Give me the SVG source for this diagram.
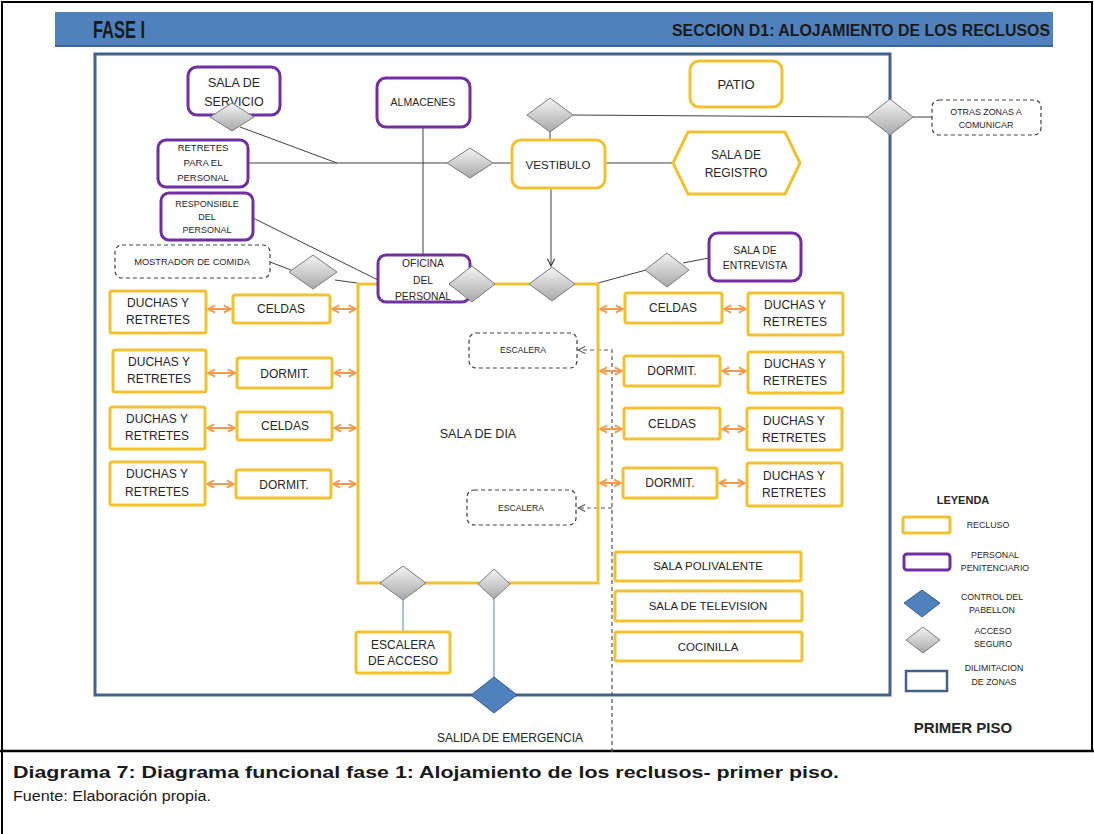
<svg xmlns="http://www.w3.org/2000/svg" width="1094" height="834" viewBox="0 0 1094 834">
<defs>
<linearGradient id="gg" x1="0" y1="0" x2="0" y2="1">
<stop offset="0" stop-color="#f4f4f4"/><stop offset="1" stop-color="#a8a8a8"/>
</linearGradient>
<marker id="oa" viewBox="0 0 10 10" refX="9" refY="5" markerWidth="9" markerHeight="10" markerUnits="userSpaceOnUse" orient="auto-start-reverse">
<path d="M1,1 L9,5 L1,9" fill="none" stroke="#f39a50" stroke-width="2"/>
</marker>
<marker id="ba" viewBox="0 0 10 10" refX="9" refY="5" markerWidth="9" markerHeight="10" markerUnits="userSpaceOnUse" orient="auto">
<path d="M1,1 L9,5 L1,9" fill="none" stroke="#333" stroke-width="1.2"/>
</marker>
<marker id="da" viewBox="0 0 10 10" refX="9" refY="5" markerWidth="9" markerHeight="10" markerUnits="userSpaceOnUse" orient="auto">
<path d="M1,1 L9,5 L1,9" fill="none" stroke="#555" stroke-width="1.2"/>
</marker>
</defs>
<style>
.y{fill:#fff;stroke:#f2c12e;stroke-width:3}
.p{fill:#fff;stroke:#7030a0;stroke-width:3}
.d{fill:#fff;stroke:#404040;stroke-width:1.2;stroke-dasharray:4 3}
.g{fill:url(#gg);stroke:#7a7a7a;stroke-width:1}
.b{fill:#4f81bd;stroke:#385d8a;stroke-width:1}
.t{font-family:"Liberation Sans",Arial,sans-serif;fill:#262626;text-anchor:middle}
.ln{fill:none;stroke:#404040;stroke-width:1}
.lb{fill:none;stroke:#7f9fc8;stroke-width:1.3}
.oa{fill:none;stroke:#f39a50;stroke-width:2;marker-start:url(#oa);marker-end:url(#oa)}
</style>
<rect width="1094" height="834" fill="#fff"/>
<path d="M2,834 V2 H1092 V752" fill="none" stroke="#000" stroke-width="2"/>
<line x1="0" y1="751" x2="1094" y2="751" stroke="#000" stroke-width="2.5"/>

<g id="header">
<rect x="55" y="12" width="998" height="34" fill="#4f81bd"/>
<line x1="55" y1="46" x2="1053" y2="46" stroke="#3a659c" stroke-width="2"/>
<text x="93" y="38" font-family="Liberation Sans,Arial,sans-serif" font-weight="bold" font-size="23" fill="#1a1a1a" textLength="52" lengthAdjust="spacingAndGlyphs">FASE I</text>
<text x="672" y="36" font-family="Liberation Sans,Arial,sans-serif" font-weight="bold" font-size="16" fill="#1a1a1a" textLength="378" lengthAdjust="spacingAndGlyphs">SECCION D1: ALOJAMIENTO DE LOS RECLUSOS</text>
</g>

<g id="frame"><rect x="95" y="54" width="795" height="641" fill="none" stroke="#43618a" stroke-width="3"/></g>

<g id="connectors">
<path class="ln" d="M240,127 L337,163"/>
<path class="ln" d="M248,163 H447"/>
<path class="ln" d="M423,127 V255"/>
<path class="ln" d="M253,218 L380,281"/>
<path class="ln" d="M270,262 L291,270"/>
<path class="ln" d="M335,280 L357,283"/>
<path class="ln" d="M493,163 H512"/>
<path class="ln" d="M550,132 V140"/>
<path class="ln" d="M573,115 L867,117"/>
<path class="ln" d="M913,117 H932"/>
<path class="ln" d="M605,163 H673"/>
<path class="ln" d="M551,188 V266" marker-end="url(#ba)"/>
<path class="ln" d="M598,283 L646,270"/>
<path class="ln" d="M683,263 L709,258"/>
<path class="lb" d="M403,600 V632"/>
<path class="lb" d="M494,599 V677"/>
<path fill="none" stroke="#555" stroke-width="1.2" stroke-dasharray="4 3" d="M612,752 V350 H578" marker-end="url(#da)"/>
<path fill="none" stroke="#555" stroke-width="1.2" stroke-dasharray="4 3" d="M612,508 H578" marker-end="url(#da)"/>
<path class="oa" d="M208,309 H231"/>
<path class="oa" d="M332,309 H356"/>
<path class="oa" d="M208,373 H235"/>
<path class="oa" d="M334,373 H356"/>
<path class="oa" d="M207,428 H235"/>
<path class="oa" d="M334,428 H356"/>
<path class="oa" d="M207,484 H234"/>
<path class="oa" d="M333,484 H356"/>
<path class="oa" d="M600,309 H623"/>
<path class="oa" d="M724,309 H746"/>
<path class="oa" d="M600,371 H622"/>
<path class="oa" d="M722,371 H746"/>
<path class="oa" d="M600,429 H622"/>
<path class="oa" d="M722,429 H745"/>
<path class="oa" d="M600,483 H621"/>
<path class="oa" d="M719,483 H745"/>
</g>

<g id="sala-de-dia">
<rect x="358" y="284" width="240" height="299" fill="none" stroke="#f2c12e" stroke-width="3"/>
<text class="t" x="478" y="438" font-size="12.5">SALA DE DIA</text>
</g>

<g id="sala-servicio">
<rect class="p" x="188" y="67" width="92" height="48" rx="9"/>
<text class="t" x="234" y="87" font-size="12.5">SALA DE</text>
<text class="t" x="234" y="106" font-size="12.5">SERVICIO</text>
</g>
<g id="acceso-servicio"><polygon class="g" points="232,103 254,117 232,131 210,117"/></g>

<g id="almacenes">
<rect class="p" x="377" y="78" width="93" height="49" rx="9"/>
<text class="t" x="423" y="106" font-size="10.5">ALMACENES</text>
</g>

<g id="patio">
<rect class="y" x="690" y="61" width="92" height="46" rx="9"/>
<text class="t" x="736" y="89" font-size="13">PATIO</text>
</g>

<g id="acceso-patio"><polygon class="g" points="550,98 573,115 550,132 527,115"/></g>
<g id="acceso-otras"><polygon class="g" points="890,99 913,117 890,135 867,117"/></g>

<g id="otras-zonas">
<rect class="d" x="932" y="100" width="109" height="35" rx="7"/>
<text class="t" x="986" y="115" font-size="8.9">OTRAS ZONAS A</text>
<text class="t" x="986" y="128" font-size="8.9">COMUNICAR</text>
</g>

<g id="vestibulo">
<rect class="y" x="512" y="140" width="93" height="48" rx="9"/>
<text class="t" x="558" y="169" font-size="11.6">VESTIBULO</text>
</g>

<g id="acceso-vestibulo"><polygon class="g" points="470,148 493,163 470,178 447,163"/></g>

<g id="sala-registro">
<polygon class="y" points="673,163 688,132 785,132 800,163 785,194 688,194"/>
<text class="t" x="736" y="159" font-size="12">SALA DE</text>
<text class="t" x="736" y="177" font-size="12">REGISTRO</text>
</g>

<g id="retretes-personal">
<rect class="p" x="158" y="140" width="90" height="47" rx="8"/>
<text class="t" x="203" y="151" font-size="9.5">RETRETES</text>
<text class="t" x="203" y="166" font-size="9.5">PARA EL</text>
<text class="t" x="203" y="181" font-size="9.5">PERSONAL</text>
</g>

<g id="responsable">
<rect class="p" x="161" y="193" width="92" height="47" rx="8"/>
<text class="t" x="207" y="207" font-size="9">RESPONSIBLE</text>
<text class="t" x="207" y="220" font-size="9">DEL</text>
<text class="t" x="207" y="233" font-size="9">PERSONAL</text>
</g>

<g id="mostrador">
<rect class="d" x="115" y="245" width="155" height="33" rx="7"/>
<text class="t" x="192" y="265" font-size="9.3">MOSTRADOR DE COMIDA</text>
</g>
<g id="acceso-mostrador"><polygon class="g" points="313,255 337,272 313,289 289,272"/></g>

<g id="oficina">
<rect class="p" x="378" y="255" width="92" height="47" rx="8"/>
<text class="t" x="423" y="267" font-size="10.3">OFICINA</text>
<text class="t" x="423" y="284" font-size="10.3">DEL</text>
<text class="t" x="423" y="300" font-size="10.3">PERSONAL</text>
</g>
<g id="acceso-oficina"><polygon class="g" points="472,266 495,284 472,302 449,284"/></g>
<g id="acceso-sala"><polygon class="g" points="552,267 575,284 552,301 529,284"/></g>

<g id="sala-entrevista">
<rect class="p" x="709" y="233" width="92" height="48" rx="9"/>
<text class="t" x="755" y="254" font-size="10.4">SALA DE</text>
<text class="t" x="755" y="269" font-size="10.4">ENTREVISTA</text>
</g>
<g id="acceso-entrevista"><polygon class="g" points="667,253 689,270 667,287 645,270"/></g>

<g id="izq-1">
<rect class="y" x="110" y="291" width="96" height="42" rx="2"/>
<text class="t" x="158" y="307" font-size="12">DUCHAS Y</text>
<text class="t" x="158" y="324" font-size="12">RETRETES</text>
</g>
<g id="izq-celdas-1"><rect class="y" x="233" y="295" width="97" height="28" rx="2"/><text class="t" x="281" y="313" font-size="12">CELDAS</text></g>
<g id="izq-2">
<rect class="y" x="113" y="350" width="93" height="42" rx="2"/>
<text class="t" x="159" y="366" font-size="12">DUCHAS Y</text>
<text class="t" x="159" y="383" font-size="12">RETRETES</text>
</g>
<g id="izq-dormit-1"><rect class="y" x="237" y="358" width="95" height="30" rx="2"/><text class="t" x="285" y="378" font-size="12">DORMIT.</text></g>
<g id="izq-3">
<rect class="y" x="110" y="407" width="95" height="42" rx="2"/>
<text class="t" x="157" y="423" font-size="12">DUCHAS Y</text>
<text class="t" x="157" y="440" font-size="12">RETRETES</text>
</g>
<g id="izq-celdas-2"><rect class="y" x="237" y="412" width="95" height="28" rx="2"/><text class="t" x="285" y="430" font-size="12">CELDAS</text></g>
<g id="izq-4">
<rect class="y" x="110" y="462" width="95" height="43" rx="2"/>
<text class="t" x="157" y="478" font-size="12">DUCHAS Y</text>
<text class="t" x="157" y="496" font-size="12">RETRETES</text>
</g>
<g id="izq-dormit-2"><rect class="y" x="236" y="470" width="95" height="28" rx="2"/><text class="t" x="284" y="489" font-size="12">DORMIT.</text></g>

<g id="der-celdas-1"><rect class="y" x="625" y="293" width="97" height="30" rx="2"/><text class="t" x="673" y="312" font-size="12">CELDAS</text></g>
<g id="der-1">
<rect class="y" x="748" y="293" width="95" height="42" rx="2"/>
<text class="t" x="795" y="309" font-size="12">DUCHAS Y</text>
<text class="t" x="795" y="326" font-size="12">RETRETES</text>
</g>
<g id="der-dormit-1"><rect class="y" x="624" y="356" width="96" height="30" rx="2"/><text class="t" x="672" y="375" font-size="12">DORMIT.</text></g>
<g id="der-2">
<rect class="y" x="748" y="352" width="95" height="41" rx="2"/>
<text class="t" x="795" y="368" font-size="12">DUCHAS Y</text>
<text class="t" x="795" y="385" font-size="12">RETRETES</text>
</g>
<g id="der-celdas-2"><rect class="y" x="624" y="408" width="96" height="31" rx="2"/><text class="t" x="672" y="428" font-size="12">CELDAS</text></g>
<g id="der-3">
<rect class="y" x="747" y="408" width="95" height="42" rx="2"/>
<text class="t" x="794" y="425" font-size="12">DUCHAS Y</text>
<text class="t" x="794" y="442" font-size="12">RETRETES</text>
</g>
<g id="der-dormit-2"><rect class="y" x="623" y="468" width="94" height="30" rx="2"/><text class="t" x="670" y="487" font-size="12">DORMIT.</text></g>
<g id="der-4">
<rect class="y" x="747" y="463" width="95" height="43" rx="2"/>
<text class="t" x="794" y="480" font-size="12">DUCHAS Y</text>
<text class="t" x="794" y="497" font-size="12">RETRETES</text>
</g>

<g id="escalera-1"><rect class="d" x="469" y="333" width="108" height="35" rx="7"/><text class="t" x="523" y="353" font-size="8.6">ESCALERA</text></g>
<g id="escalera-2"><rect class="d" x="467" y="490" width="109" height="35" rx="7"/><text class="t" x="521" y="511" font-size="8.6">ESCALERA</text></g>

<g id="polivalente"><rect class="y" x="615" y="552" width="186" height="29" rx="2"/><text class="t" x="708" y="570" font-size="11.5">SALA POLIVALENTE</text></g>
<g id="television"><rect class="y" x="615" y="591" width="187" height="30" rx="2"/><text class="t" x="708" y="610" font-size="11.5">SALA DE TELEVISION</text></g>
<g id="cocinilla"><rect class="y" x="615" y="632" width="187" height="29" rx="2"/><text class="t" x="708" y="651" font-size="11.5">COCINILLA</text></g>

<g id="acceso-escalera"><polygon class="g" points="403,566 426,583 403,600 380,583"/></g>
<g id="acceso-emergencia"><polygon class="g" points="494,569 510,584 494,599 478,584"/></g>

<g id="escalera-acceso">
<rect class="y" x="356" y="632" width="94" height="41" rx="2"/>
<text class="t" x="403" y="649" font-size="12">ESCALERA</text>
<text class="t" x="403" y="665" font-size="12">DE ACCESO</text>
</g>

<g id="control"><polygon class="b" points="494,677 517,695 494,713 471,695"/></g>
<text class="t" x="510" y="742" font-size="12">SALIDA DE EMERGENCIA</text>

<g id="leyenda">
<text class="t" x="963" y="504" font-size="11" font-weight="bold">LEYENDA</text>
<rect x="903" y="517" width="47" height="16" rx="1.5" fill="#fff" stroke="#f2c12e" stroke-width="3"/>
<text class="t" x="988" y="528" font-size="8.8">RECLUSO</text>
<rect x="904" y="554" width="46" height="16" rx="3" fill="#fff" stroke="#7030a0" stroke-width="3"/>
<text class="t" x="995" y="558" font-size="8.8">PERSONAL</text>
<text class="t" x="995" y="571" font-size="8.8">PENITENCIARIO</text>
<polygon class="b" points="922,590 940,603 922,617 904,603"/>
<text class="t" x="992" y="600" font-size="8.8">CONTROL DEL</text>
<text class="t" x="992" y="613" font-size="8.8">PABELLON</text>
<polygon class="g" points="923,627 940,640 923,653 906,640"/>
<text class="t" x="993" y="634" font-size="8.8">ACCESO</text>
<text class="t" x="993" y="647" font-size="8.8">SEGURO</text>
<rect x="906" y="671" width="41" height="20" fill="#fff" stroke="#43618a" stroke-width="2.5"/>
<text class="t" x="994" y="671" font-size="8.8">DILIMITACION</text>
<text class="t" x="994" y="685" font-size="8.8">DE ZONAS</text>
<text class="t" x="963" y="733" font-size="15" font-weight="bold" fill="#1a1a1a">PRIMER PISO</text>
</g>

<g id="caption">
<text x="13" y="778" font-family="Liberation Sans,Arial,sans-serif" font-weight="bold" font-size="16.5" fill="#1a1a1a" textLength="826" lengthAdjust="spacingAndGlyphs">Diagrama 7: Diagrama funcional fase 1: Alojamiento de los reclusos- primer piso.</text>
<text x="13" y="801" font-family="Liberation Sans,Arial,sans-serif" font-size="14" fill="#1a1a1a" textLength="198" lengthAdjust="spacingAndGlyphs">Fuente: Elaboración propia.</text>
</g>
</svg>
